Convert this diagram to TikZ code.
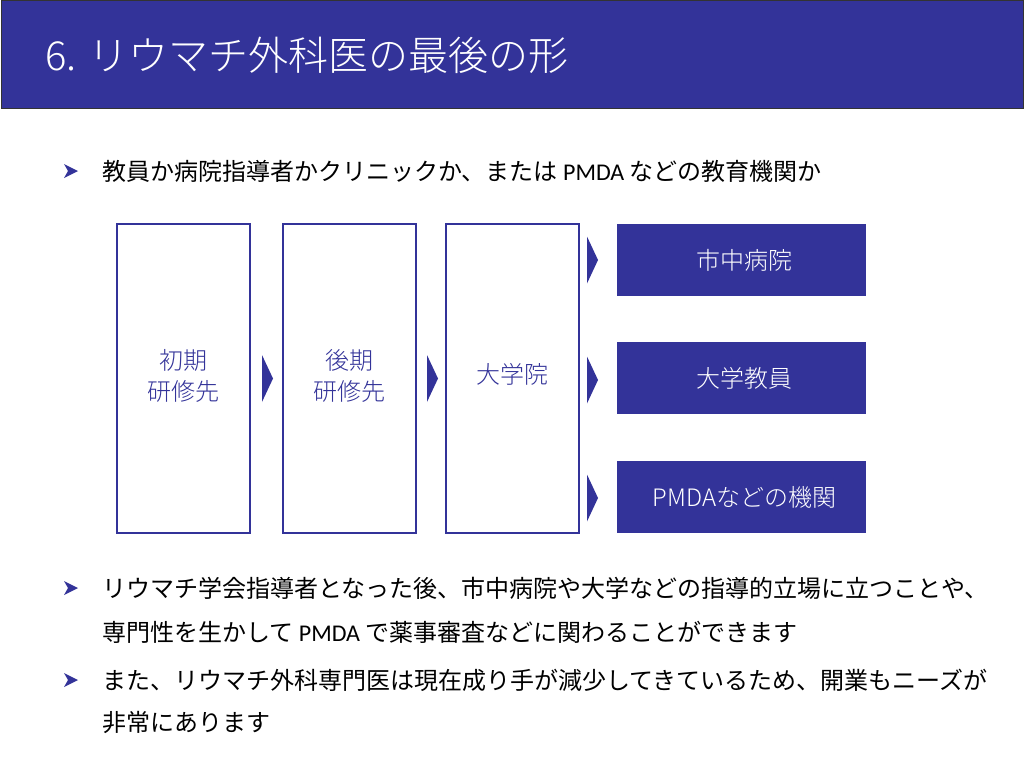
\documentclass[tikz,border=0pt]{standalone}
\usepackage{fontspec}
\setmainfont{Noto Sans CJK JP}
\newfontfamily\lightfont{Noto Sans CJK JP Light}
\newfontfamily\latfont{Carlito}
\usetikzlibrary{positioning}
\definecolor{slideblue}{RGB}{51,51,153}

% chevron between stages
\newcommand{\chev}[1]{\fill[slideblue] (#1) ++(0,-23.5) -- ++(11,23.5) -- ++(-11,23.5) -- cycle;}
% bullet mark
\newcommand{\bul}[1]{\fill[slideblue] (#1) ++(-7,-7) -- ++(14,7) -- ++(-14,7) -- ++(4,-7) -- cycle;}
% two-line stage label, set a little above centre
\newcommand{\twoline}[2]{\raisebox{6pt}{\begin{tabular}{@{}c@{}}#1\\#2\end{tabular}}}

\begin{document}
\begin{tikzpicture}[
            x = 1pt, y = -1pt,
            every node/.style = {inner sep = 0pt},
            stage/.style = {draw = slideblue, line width = 2pt, fill = white,
                minimum width = 133pt, minimum height = 309pt, text = slideblue,
                align = center, font = \lightfont\fontsize{24}{31}\selectfont},
            dest/.style = {fill = slideblue, minimum width = 249pt,
                minimum height = 72pt, text = white, font = \lightfont\fontsize{24}{30}\selectfont},
            body/.style = {anchor = west, align = left, font = \fontsize{24}{44}\selectfont}
        ]
        \useasboundingbox (0,0) rectangle (1024,768);
        \fill[white] (0,0) rectangle (1024,768);

        % header
        \node[draw = black!80, fill = slideblue, minimum width = 1022pt,
              minimum height = 107pt, anchor = north west] (head) at (0.5,0.5) {};
        \node[anchor = west, text = white, font = \lightfont\fontsize{40}{46}\selectfont]
              (title) at (45,55) {6. リウマチ外科医の最後の形};

        % first bullet
        \bul{71,171}
        \node[body] (b1) at (102,171) {教員か病院指導者かクリニックか、または {\latfont PMDA} などの教育機関か};

        % stages
        \node[stage] (S1) at (183.5,378.5) {\twoline{初期}{研修先}};
        \node[stage] (S2) at (349,378.5) {\twoline{後期}{研修先}};
        \node[stage] (S3) at (512,378.5) {\raisebox{10pt}{大学院}};
        \chev{262,378.5}
        \chev{427,378.5}

        % destinations
        \node[dest] (D1) at (741.5,260) {\hspace{6pt}市中病院};
        \node[dest] (D2) at (741.5,378) {\hspace{6pt}大学教員};
        \node[dest] (D3) at (741.5,497) {\hspace{6pt}PMDAなどの機関};
        \chev{587,260}
        \chev{587,380}
        \chev{587,498}

        % lower bullets
        \bul{71,588}
        \node[body] (b2) at (102,610) {リウマチ学会指導者となった後、市中病院や大学などの指導的立場に立つことや、\\専門性を生かして {\latfont PMDA} で薬事審査などに関わることができます};
        \bul{71,680}
        \node[body, font = \fontsize{24}{42}\selectfont] (b3) at (102,701) {また、リウマチ外科専門医は現在成り手が減少してきているため、開業もニーズが\\非常にあります};
\end{tikzpicture}
\end{document}
